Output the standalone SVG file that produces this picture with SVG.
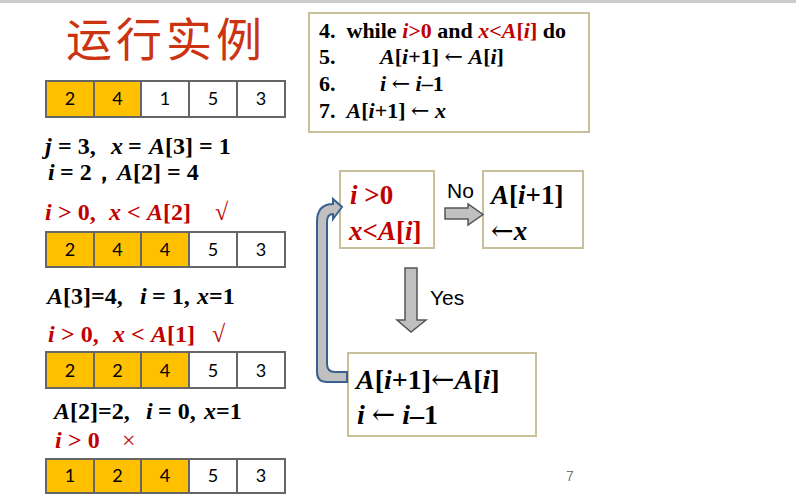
<svg xmlns="http://www.w3.org/2000/svg" width="796" height="504" viewBox="0 0 796 504">
<style>
.t{font-family:"Liberation Serif","Times New Roman",serif;font-weight:bold;fill:#000;white-space:pre}
.i{font-style:italic}
.r{fill:#C00000}
.ar{font-family:"DejaVu Serif",serif;font-weight:normal;font-style:normal}
.cell{stroke:#666;stroke-width:2}
.y{fill:#FFC000}
.w{fill:#fff}
.n{font-family:Lato,"Open Sans",sans-serif;font-size:18px;fill:#000;text-anchor:middle}
.box{fill:#fff;stroke:#C8C09A;stroke-width:2}
.lbl{font-family:"Liberation Sans",Arial,sans-serif;font-size:21px;fill:#000}
.blk{fill:#C0C0C0;stroke:#555;stroke-width:1.5}
</style>
<rect x="0" y="0" width="796" height="504" fill="#fff"/>
<rect x="0" y="0" width="796" height="3" fill="#CCCCCC"/>
<text x="66" y="56" font-family="'Noto Sans CJK SC',sans-serif" font-size="46" fill="#CC3311" letter-spacing="4">运行实例</text>

<g id="array1">
<rect class="cell y" x="46" y="81" width="48" height="36"/>
<rect class="cell y" x="94" y="81" width="47" height="36"/>
<rect class="cell w" x="141" y="81" width="48" height="36"/>
<rect class="cell w" x="189" y="81" width="48" height="36"/>
<rect class="cell w" x="237" y="81" width="48" height="36"/>
<text class="n" x="70" y="105">2</text><text class="n" x="117.5" y="105">4</text><text class="n" x="165" y="105">1</text><text class="n" x="213" y="105">5</text><text class="n" x="261" y="105">3</text>
</g>

<text class="t" font-size="24"><tspan class="i" x="45" y="154">j</tspan><tspan x="58" y="154">= 3,</tspan><tspan class="i" x="111" y="154">x</tspan><tspan x="128" y="154">=</tspan><tspan class="i" x="149" y="154">A</tspan><tspan>[3] = 1</tspan></text>
<text class="t" font-size="24"><tspan class="i" x="48" y="180">i</tspan><tspan x="60" y="180">= 2，</tspan><tspan class="i" x="117" y="180">A</tspan><tspan>[2] = 4</tspan></text>
<text class="t r" font-size="24"><tspan class="i" x="45" y="220">i</tspan><tspan x="58" y="220">&gt; 0,</tspan><tspan class="i" x="109" y="220">x</tspan><tspan x="127" y="220">&lt;</tspan><tspan class="i" x="147" y="220">A</tspan><tspan>[2]</tspan><tspan x="215" y="220" font-weight="normal">√</tspan></text>

<g id="array2">
<rect class="cell y" x="46" y="232" width="48" height="35"/>
<rect class="cell y" x="94" y="232" width="47" height="35"/>
<rect class="cell y" x="141" y="232" width="48" height="35"/>
<rect class="cell w" x="189" y="232" width="48" height="35"/>
<rect class="cell w" x="237" y="232" width="48" height="35"/>
<text class="n" x="70" y="256">2</text><text class="n" x="117.5" y="256">4</text><text class="n" x="165" y="256">4</text><text class="n" x="213" y="256">5</text><text class="n" x="261" y="256">3</text>
</g>

<text class="t" font-size="24"><tspan class="i" x="47" y="304">A</tspan><tspan>[3]=4,</tspan><tspan class="i" x="140" y="304">i</tspan><tspan x="152" y="304">= 1,</tspan><tspan class="i" x="197" y="304">x</tspan><tspan>=1</tspan></text>
<text class="t r" font-size="24"><tspan class="i" x="48" y="342">i</tspan><tspan x="61" y="342">&gt; 0,</tspan><tspan class="i" x="113" y="342">x</tspan><tspan x="131" y="342">&lt;</tspan><tspan class="i" x="151" y="342">A</tspan><tspan>[1]</tspan><tspan x="212" y="342" font-weight="normal">√</tspan></text>

<g id="array3">
<rect class="cell y" x="46" y="352" width="48" height="36"/>
<rect class="cell y" x="94" y="352" width="47" height="36"/>
<rect class="cell y" x="141" y="352" width="48" height="36"/>
<rect class="cell w" x="189" y="352" width="48" height="36"/>
<rect class="cell w" x="237" y="352" width="48" height="36"/>
<text class="n" x="70" y="377">2</text><text class="n" x="117.5" y="377">2</text><text class="n" x="165" y="377">4</text><text class="n" x="213" y="377">5</text><text class="n" x="261" y="377">3</text>
</g>

<text class="t" font-size="24"><tspan class="i" x="54" y="419">A</tspan><tspan>[2]=2,</tspan><tspan class="i" x="146" y="419">i</tspan><tspan x="158" y="419">= 0,</tspan><tspan class="i" x="204" y="419">x</tspan><tspan>=1</tspan></text>
<text class="t r" font-size="24"><tspan class="i" x="55" y="448">i</tspan><tspan x="68" y="448">&gt; 0</tspan><tspan x="122" y="448" font-weight="normal">×</tspan></text>

<g id="array4">
<rect class="cell y" x="46" y="459" width="48" height="34"/>
<rect class="cell y" x="94" y="459" width="47" height="34"/>
<rect class="cell y" x="141" y="459" width="48" height="34"/>
<rect class="cell w" x="189" y="459" width="48" height="34"/>
<rect class="cell w" x="237" y="459" width="48" height="34"/>
<text class="n" x="70" y="482">1</text><text class="n" x="117.5" y="482">2</text><text class="n" x="165" y="482">4</text><text class="n" x="213" y="482">5</text><text class="n" x="261" y="482">3</text>
</g>

<g id="code">
<rect class="box" x="309" y="13" width="280" height="119"/>
<text class="t" font-size="22"><tspan x="319" y="38">4.  while </tspan><tspan class="i r">i</tspan><tspan class="r">&gt;0</tspan><tspan> and </tspan><tspan class="i r">x</tspan><tspan class="r">&lt;</tspan><tspan class="i r">A</tspan><tspan class="r">[</tspan><tspan class="i r">i</tspan><tspan class="r">]</tspan><tspan> do</tspan></text>
<text class="t" font-size="22"><tspan x="319" y="64">5.</tspan><tspan class="i" x="380" y="64">A</tspan><tspan>[</tspan><tspan class="i">i</tspan><tspan>+1] </tspan><tspan class="ar">←</tspan><tspan> </tspan><tspan class="i">A</tspan><tspan>[</tspan><tspan class="i">i</tspan><tspan>]</tspan></text>
<text class="t" font-size="22"><tspan x="319" y="91">6.</tspan><tspan class="i" x="380" y="91">i</tspan><tspan> </tspan><tspan class="ar">←</tspan><tspan> </tspan><tspan class="i">i</tspan><tspan>–1</tspan></text>
<text class="t" font-size="22"><tspan x="319" y="118">7.  </tspan><tspan class="i">A</tspan><tspan>[</tspan><tspan class="i">i</tspan><tspan>+1] </tspan><tspan class="ar">←</tspan><tspan> </tspan><tspan class="i">x</tspan></text>
</g>

<g id="cond">
<rect class="box" x="340" y="171" width="94" height="77"/>
<text class="t r" font-size="27"><tspan class="i" x="350" y="204">i</tspan><tspan> &gt;0</tspan></text>
<text class="t r" font-size="27"><tspan class="i" x="349" y="240">x</tspan><tspan>&lt;</tspan><tspan class="i">A</tspan><tspan>[</tspan><tspan class="i">i</tspan><tspan>]</tspan></text>
</g>

<g id="assignx">
<rect class="box" x="483" y="171" width="100" height="77"/>
<text class="t" font-size="27"><tspan class="i" x="491" y="204">A</tspan><tspan>[</tspan><tspan class="i">i</tspan><tspan>+1]</tspan></text>
<text class="t" font-size="27"><tspan class="ar" x="491" y="240">←</tspan><tspan class="i">x</tspan></text>
</g>

<g id="shift">
<rect class="box" x="348" y="353" width="188" height="83"/>
<text class="t" font-size="28"><tspan class="i" x="356" y="389">A</tspan><tspan>[</tspan><tspan class="i">i</tspan><tspan>+1]</tspan><tspan class="ar">←</tspan><tspan class="i">A</tspan><tspan>[</tspan><tspan class="i">i</tspan><tspan>]</tspan></text>
<text class="t" font-size="28"><tspan class="i" x="357" y="424">i</tspan><tspan> </tspan><tspan class="ar">←</tspan><tspan> </tspan><tspan class="i">i</tspan><tspan>–1</tspan></text>
</g>

<g id="connectors">
<path class="blk" d="M445,208 H468 V204 L483,214.5 L468,225 V219 H445 Z"/>
<text class="lbl" x="447" y="198">No</text>
<path class="blk" d="M405,268 H417 V320 H426 L411,332 L397,320 H405 Z"/>
<text class="lbl" x="430" y="305">Yes</text>
<path d="M347,372 H335 Q327,372 327,364 V222 Q327,214 333,214 V219 L342,207 L333,199 V204 Q317,204 317,222 V372 Q317,382 327,382 H347 Z" fill="#C0C0C0" stroke="#3A6091" stroke-width="2"/>
</g>
<text x="566" y="481" font-family="'Liberation Sans',Arial,sans-serif" font-size="14" fill="#777">7</text>
</svg>
